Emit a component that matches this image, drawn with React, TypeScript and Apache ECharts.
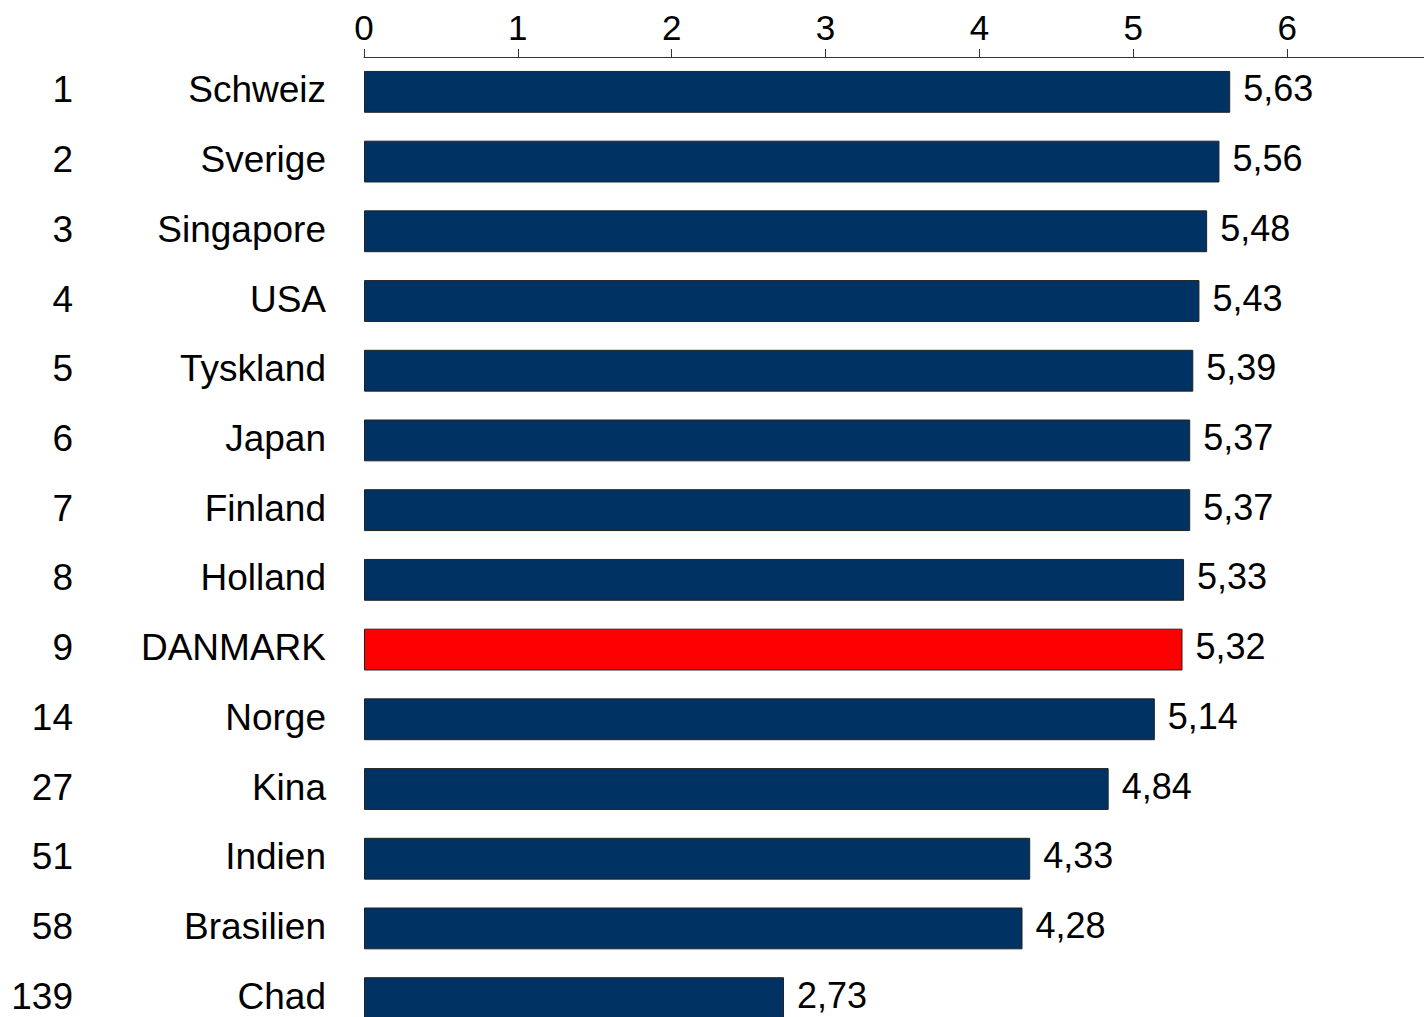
import React, { useEffect, useRef } from "react";
import * as echarts from "echarts";

const ranks = ["1", "2", "3", "4", "5", "6", "7", "8", "9", "14", "27", "51", "58", "139"];
const countries = ["Schweiz", "Sverige", "Singapore", "USA", "Tyskland", "Japan", "Finland", "Holland", "DANMARK", "Norge", "Kina", "Indien", "Brasilien", "Chad"];
const values = [5.63, 5.56, 5.48, 5.43, 5.39, 5.37, 5.37, 5.33, 5.32, 5.14, 4.84, 4.33, 4.28, 2.73];
const highlight = "DANMARK";

const BLUE = "#003263";
const RED = "#ff0000";
const FONT = "'Liberation Sans', Arial, sans-serif";

export default function App() {
  const ref = useRef<HTMLDivElement>(null);
  useEffect(() => {
    document.body.style.margin = "0";
    const chart = echarts.init(ref.current!, undefined, { renderer: "svg" });
    chart.setOption({
      animation: false,
      grid: { left: 364, top: 57, width: 1077, height: 976, containLabel: false, outerBoundsMode: "none" },
      xAxis: {
        type: "value",
        position: "top",
        min: 0,
        max: 7,
        interval: 1,
        splitLine: { show: false },
        axisLine: { show: true, lineStyle: { color: "#333", width: 1 } },
        axisTick: { show: true, length: 8, lineStyle: { color: "#333", width: 1 } },
        axisLabel: { color: "#000", fontSize: 35, fontFamily: FONT, margin: 12, showMaxLabel: false },
      },
      yAxis: {
        type: "category",
        inverse: true,
        data: countries,
        axisLine: { show: false },
        axisTick: { show: false },
        axisLabel: {
          margin: 38,
          align: "right",
          formatter: (v: string, i: number) => `{r|${ranks[i]}}{n|${v}}`,
          rich: {
            r: { width: 73, align: "right", fontSize: 37, lineHeight: 30, padding: [0, 0, 4, 0], fontFamily: FONT, color: "#000" },
            n: { width: 253, align: "right", fontSize: 37, lineHeight: 30, padding: [0, 0, 4, 0], fontFamily: FONT, color: "#000" },
          },
        },
      },
      series: [
        {
          type: "bar",
          barCategoryGap: "40%",
          data: values.map((v, i) => ({
            value: v,
            itemStyle: { color: countries[i] === highlight ? RED : BLUE },
          })),
          itemStyle: { borderColor: "#222", borderWidth: 1 },
          label: {
            show: true,
            position: "right",
            distance: 13,
            offset: [0, -3],
            color: "#000",
            formatter: (p: any) => `{v|${p.value.toFixed(2).replace(".", ",")}}`,
            rich: {
              v: { fontSize: 36, lineHeight: 30, fontFamily: FONT, color: "#000" },
            },
          },
        },
      ],
    });
    return () => chart.dispose();
  }, []);
  return <div ref={ref} style={{ width: 1424, height: 1017 }} />;
}
